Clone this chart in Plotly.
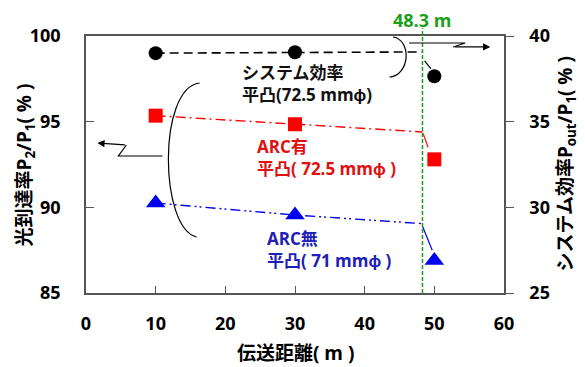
import plotly.graph_objects as go

# ---- data ----
dist = [10, 30, 50]
sys_eff = [39.0, 39.05, 37.65]        # right axis (%)
arc_with = [95.35, 94.85, 92.8]       # left axis (%)
arc_without = [90.25, 89.55, 86.9]    # left axis (%)

trend_x = [10, 30, 48.3]
sys_trend = [39.0, 39.05, 39.07]
with_trend = [95.35, 94.85, 94.4]
without_trend = [90.25, 89.55, 89.05]

sys_break_x = [48.6, 49.5]
sys_break = [38.55, 38.1]
with_break_x = [48.4, 49.1]
with_break = [94.3, 93.5]
without_break_x = [48.3, 49.7]
without_break = [88.9, 87.5]

limit_x = 48.3
x_ticks = [0, 10, 20, 30, 40, 50, 60]
left_ticks = [85, 90, 95, 100]
right_ticks = [25, 30, 35, 40]

FONT = "Open Sans, Noto Sans CJK JP, sans-serif"
RED = "#ff0000"
BLUE = "#0000ee"
BLUE_TXT = "#2020b8"
RED_TXT = "#e01010"
GREEN = "#1aa01a"
AX = "#555555"

fig = go.Figure()

# trend lines
fig.add_trace(go.Scatter(x=trend_x, y=sys_trend, yaxis="y2", mode="lines",
                         line=dict(color="black", width=1.6, dash="9px,5px"), showlegend=False))
fig.add_trace(go.Scatter(x=trend_x, y=with_trend, mode="lines",
                         line=dict(color=RED, width=1.4, dash="10px,4px,2px,4px"), showlegend=False))
fig.add_trace(go.Scatter(x=trend_x, y=without_trend, mode="lines",
                         line=dict(color=BLUE, width=1.4, dash="10px,4px,2px,3px,2px,4px"), showlegend=False))
# break segments
fig.add_trace(go.Scatter(x=sys_break_x, y=sys_break, yaxis="y2", mode="lines",
                         line=dict(color="black", width=1.2), showlegend=False))
fig.add_trace(go.Scatter(x=with_break_x, y=with_break, mode="lines",
                         line=dict(color=RED, width=1.2), showlegend=False))
fig.add_trace(go.Scatter(x=without_break_x, y=without_break, mode="lines",
                         line=dict(color=BLUE, width=1.2), showlegend=False))
# markers
fig.add_trace(go.Scatter(x=dist, y=sys_eff, yaxis="y2", mode="markers",
                         marker=dict(symbol="circle", size=14, color="black"), showlegend=False))
fig.add_trace(go.Scatter(x=dist, y=arc_with, mode="markers",
                         marker=dict(symbol="square", size=14, color=RED), showlegend=False))
fig.add_trace(go.Scatter(x=dist, y=arc_without, mode="markers",
                         marker=dict(symbol="triangle-up", size=17, color=BLUE), showlegend=False))

shapes = [
    # 48.3 m limit
    dict(type="line", xref="x", yref="paper", x0=limit_x, x1=limit_x, y0=0, y1=1.03,
         line=dict(color=GREEN, width=1.5, dash="4px,2px")),
    # left bracket arc
    dict(type="path", xref="x", yref="y",
         path="M 16.3,97.256 C 10.26,96.964 10.55,88.79 15.87,88.27",
         line=dict(color="black", width=1.2)),
    # left zigzag
    dict(type="path", xref="x", yref="y",
         path="M 10.98,92.995 L 4.65,92.995 L 5.8,93.637",
         line=dict(color="black", width=1.2)),
    # right bracket arc
    dict(type="path", xref="x", yref="y",
         path="M 44.07,99.94 C 46.8,99.77 46.5,97.72 43.6,97.6",
         line=dict(color="black", width=1.2)),
    # right zigzag
    dict(type="path", xref="x", yref="y",
         path="M 46.37,99.59 L 54.43,99.59 L 52.7,99.36",
         line=dict(color="black", width=1.2)),
]

ann = []
# arrowheads
ann.append(dict(x=1.63, y=93.75, xref="x", yref="y", ax=5.8, ay=93.637, axref="x", ayref="y",
                text="", showarrow=True, arrowhead=2, arrowsize=1.2, arrowwidth=1.2, arrowcolor="black"))
ann.append(dict(x=58.03, y=99.36, xref="x", yref="y", ax=52.7, ay=99.36, axref="x", ayref="y",
                text="", showarrow=True, arrowhead=2, arrowsize=1.2, arrowwidth=1.2, arrowcolor="black"))

def txt(x, y, s, color, size=17):
    ann.append(dict(x=x, y=y, xref="x", yref="y", text=s, showarrow=False, xanchor="left",
                    yanchor="middle", align="left",
                    font=dict(family=FONT, size=size, color=color, weight="bold")))

txt(22.1, 97.2, "システム効率<br>平凸(72.5 mmϕ)", "#111111")
txt(24.3, 92.88, "ARC有<br>平凸( 72.5 mmϕ )", RED_TXT)
txt(25.7, 87.54, "ARC無<br>平凸( 71 mmϕ )", BLUE_TXT)

# 48.3 m label
ann.append(dict(x=limit_x, y=1.0, xref="x", yref="paper", yshift=16, text="48.3 m", showarrow=False,
                xanchor="center", yanchor="middle", font=dict(family=FONT, size=18, color=GREEN, weight="bold")))

# axis titles
ann.append(dict(x=-0.146, y=0.5, xref="paper", yref="paper", textangle=-90, showarrow=False,
                text="光到達率P<sub>2</sub>/P<sub>1</sub>( % )", xanchor="center", yanchor="middle",
                font=dict(family=FONT, size=19, color="black", weight="bold")))
ann.append(dict(x=1.146, y=0.5, xref="paper", yref="paper", textangle=-90, showarrow=False,
                text="システム効率P<sub>out</sub>/P<sub>1</sub>( % )", xanchor="center", yanchor="middle",
                font=dict(family=FONT, size=19, color="black", weight="bold")))
ann.append(dict(x=0.5, y=-0.232, xref="paper", yref="paper", showarrow=False,
                text="伝送距離( m )", xanchor="center", yanchor="middle",
                font=dict(family=FONT, size=19, color="black", weight="bold")))

tickfont = dict(family=FONT, size=18, color="black", weight="bold")

# page body adds an 8px offset, so the figure is sized to fill the rest of the window
fig.update_layout(
    width=577, height=359,
    margin=dict(l=78, r=81, t=28, b=74),
    plot_bgcolor="white", paper_bgcolor="white",
    shapes=shapes, annotations=ann,
    xaxis=dict(range=[0, 60], tickvals=x_ticks, ticks="inside", ticklen=7, tickcolor=AX,
               showline=True, linecolor=AX, linewidth=1.5, mirror=True, showgrid=False,
               zeroline=False, tickfont=tickfont, ticklabelstandoff=14),
    yaxis=dict(range=[85, 100], tickvals=left_ticks, ticks="inside", ticklen=8, tickcolor=AX,
               showline=True, linecolor=AX, linewidth=1.5, showgrid=False, zeroline=False,
               tickfont=tickfont, ticklabelstandoff=20),
    yaxis2=dict(range=[25, 40], tickvals=right_ticks, overlaying="y", side="right",
                ticks="outside", ticklen=8, tickcolor=AX, showline=True, linecolor=AX,
                linewidth=1.5, showgrid=False, zeroline=False, tickfont=tickfont,
                ticklabelstandoff=12),
)

fig.write_html("out.html")
